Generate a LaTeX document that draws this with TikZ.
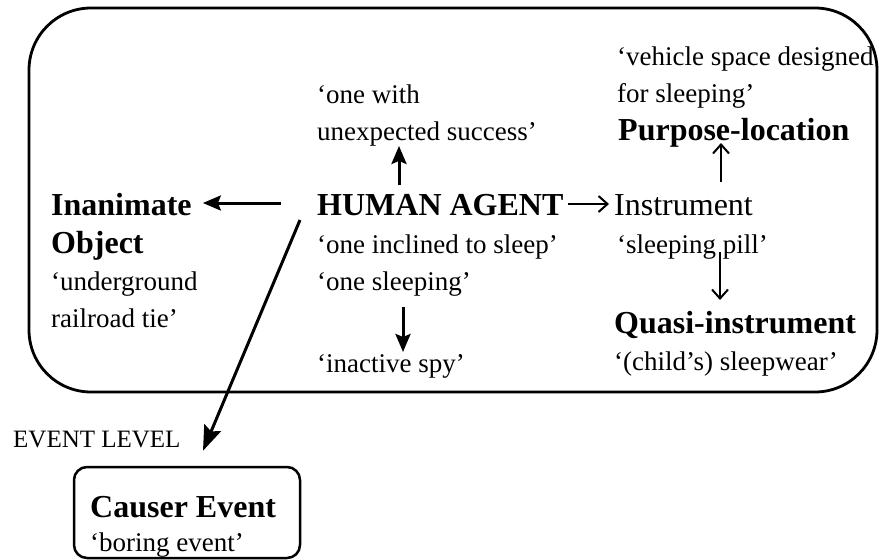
\documentclass[tikz,border=0pt]{standalone}
\usepackage{fontspec}
\setmainfont{Liberation Serif}
\usetikzlibrary{arrows.meta}
\begin{document}
\begin{tikzpicture}[x=1pt,y=-1pt,
  big/.style={font=\fontsize{32}{36}\selectfont\bfseries, anchor=base west, inner sep=0pt},
  bigr/.style={font=\fontsize{32}{36}\selectfont, anchor=base west, inner sep=0pt},
  gloss/.style={font=\fontsize{27}{30}\selectfont, anchor=base west, inner sep=0pt},
  thickarr/.style={line width=3pt, -{Stealth[length=18pt,width=15pt,inset=3pt]}},
  diagarr/.style={line width=3pt, -{Stealth[length=25pt,width=18pt,inset=4pt]}},
  thinarr/.style={line width=2pt, -{Straight Barb[length=9pt,width=16pt]}},
  frame/.style={line width=2.8pt, rounded corners=62pt},
  evbox/.style={draw, line width=2.5pt, rounded corners=13pt, minimum width=226pt, minimum height=91pt, inner sep=0pt},
]
\useasboundingbox (0,0) rectangle (879,560);
\draw[frame] (29,8) rectangle (877,392);

% left column
\node[big] (inan) at (51,215) {Inanimate};
\node[big] (obj) at (51,253) {Object};
\node[gloss] (ug) at (51,290) {`underground};
\node[gloss] (rt) at (51,327) {railroad tie'};

% middle column
\node[gloss] (ow1) at (317,103) {`one with};
\node[gloss] (ow2) at (317,140) {unexpected success'};
\node[big] (ha) at (317,215) {HUMAN AGENT};
\node[gloss] (oi) at (317,253) {`one inclined to sleep'};
\node[gloss] (os) at (317,290) {`one sleeping'};
\node[gloss] (is) at (317,372) {`inactive spy'};

% right column
\node[gloss] (vs) at (617,65) {`vehicle space designed};
\node[gloss] (fs) at (617,102) {for sleeping'};
\node[big] (pl) at (618,140) {Purpose-location};
\node[bigr] (ins) at (614,215) {Instrument};
\node[gloss] (sp) at (617,253) {`sleeping pill'};
\node[big] (qi) at (614,333) {Quasi-instrument};
\node[gloss] (cs) at (614,370) {`(child's) sleepwear'};

% event level
\node[gloss, font=\fontsize{25}{28}\selectfont] (el) at (13,447) {EVENT LEVEL};
\node[evbox] (ce) at (187,512.5) {};
\node[big] (cet) at (90,517) {Causer Event};
\node[gloss] (be) at (90,551) {`boring event'};

% connector end points
\coordinate (hal) at (281,203);
\coordinate (hau) at (399,185);
\coordinate (had) at (403,307);
\coordinate (hadg) at (300,220);
\coordinate (inu) at (721,182);
\coordinate (ind) at (720,252);

% arrows
\draw[thickarr] (hal) -- ([xshift=11pt]inan.east |- hal);
\draw[thickarr] (hau) -- (hau |- ow2.south);
\draw[thickarr] (had) -- (403,352);
\draw[diagarr] (hadg) -- ([xshift=16pt,yshift=15pt]ce.north);
\draw[thinarr] ([xshift=4pt]ha.east |- 0,204) -- ([xshift=-5pt]ins.west |- 0,204);
\draw[thinarr] (inu) -- (721,143);
\draw[thinarr] (ind) -- (720,300);
\end{tikzpicture}
\end{document}
